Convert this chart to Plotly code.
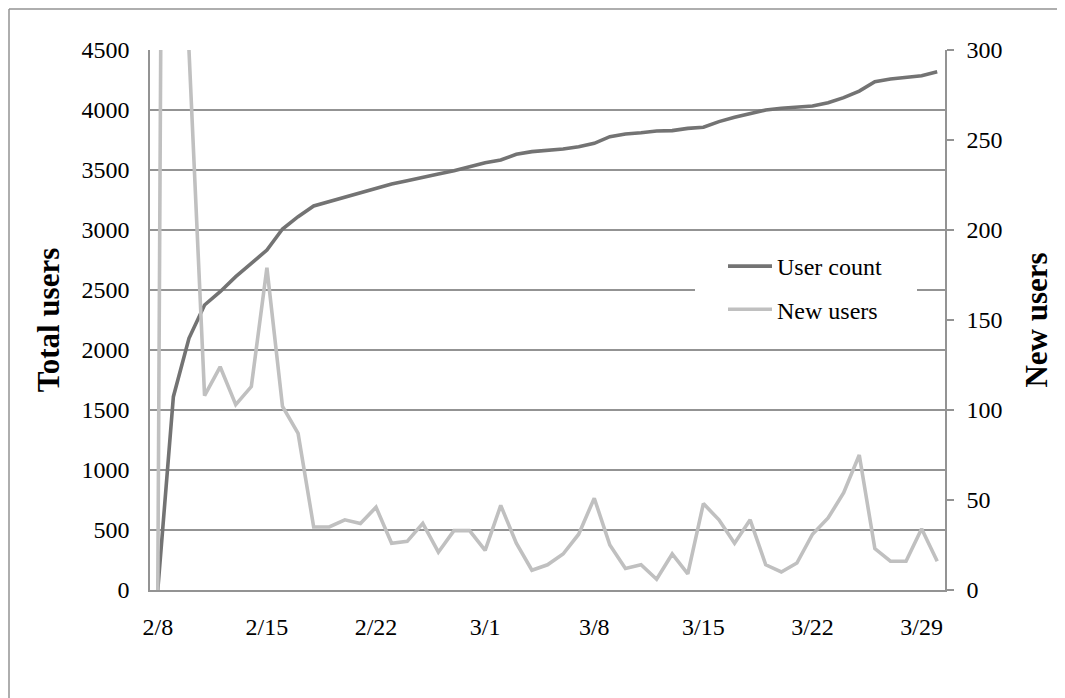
import plotly.graph_objects as go

# ---- data ----
dates = [
    "2011-02-08", "2011-02-09", "2011-02-10", "2011-02-11", "2011-02-12", "2011-02-13", "2011-02-14",
    "2011-02-15", "2011-02-16", "2011-02-17", "2011-02-18", "2011-02-19", "2011-02-20", "2011-02-21",
    "2011-02-22", "2011-02-23", "2011-02-24", "2011-02-25", "2011-02-26", "2011-02-27", "2011-02-28",
    "2011-03-01", "2011-03-02", "2011-03-03", "2011-03-04", "2011-03-05", "2011-03-06", "2011-03-07",
    "2011-03-08", "2011-03-09", "2011-03-10", "2011-03-11", "2011-03-12", "2011-03-13", "2011-03-14",
    "2011-03-15", "2011-03-16", "2011-03-17", "2011-03-18", "2011-03-19", "2011-03-20", "2011-03-21",
    "2011-03-22", "2011-03-23", "2011-03-24", "2011-03-25", "2011-03-26", "2011-03-27", "2011-03-28",
    "2011-03-29", "2011-03-30",
]
user_count = [
    0, 1611, 2097, 2375, 2486, 2611, 2722, 2833, 3008, 3111, 3200, 3236, 3269, 3306, 3342,
    3383, 3411, 3436, 3467, 3494, 3528, 3561, 3583, 3631, 3653, 3661, 3675, 3694, 3722, 3778,
    3800, 3811, 3825, 3828, 3847, 3856, 3903, 3939, 3967, 4000, 4014, 4022, 4033, 4061, 4103,
    4158, 4236, 4258, 4272, 4286, 4319,
]
new_users = [
    0, 1600, 300, 108, 124, 103, 113, 179, 102, 87, 35, 35, 39, 37, 46, 26, 27, 37, 21, 33,
    33, 22, 47, 26, 11, 14, 20, 31, 51, 25, 12, 14, 6, 20, 9, 48, 39, 26, 39, 14, 10, 15,
    31, 40, 54, 75, 23, 16, 16, 34, 16,
]
tick_dates = ["2011-02-08", "2011-02-15", "2011-02-22", "2011-03-01",
              "2011-03-08", "2011-03-15", "2011-03-22", "2011-03-29"]
tick_labels = ["2/8", "2/15", "2/22", "3/1", "3/8", "3/15", "3/22", "3/29"]
x_range = ["2011-02-07 12:00", "2011-03-30 12:00"]

# ---- styling ----
FONT = "Liberation Serif, Times New Roman, serif"
GRID = "#939393"
W, H = 1057, 690               # page adds an 8px body margin; figure runs to the window edge
L, R, T, B = 142, 937, 42, 582  # plot area, figure pixels


def px_x(p):
    return (p - L) / (R - L)


def px_y(p):
    return (B - p) / (B - T)


fig = go.Figure()
fig.add_trace(go.Scatter(
    x=dates, y=user_count, name="User count", mode="lines",
    line=dict(color="#737373", width=3.6), yaxis="y", legendgroup="a",
))
fig.add_trace(go.Scatter(
    x=dates, y=new_users, name="New users", mode="lines",
    line=dict(color="#c0c0c0", width=3.6), yaxis="y2", legendgroup="b",
))

fig.update_layout(
    width=W, height=H,
    margin=dict(l=L, r=W - R, t=T, b=H - B, autoexpand=False),
    paper_bgcolor="white", plot_bgcolor="white",
    font=dict(family=FONT, size=24, color="black"),
    showlegend=True,
    legend=dict(
        x=px_x(715), y=px_y(236), xanchor="left", yanchor="top",
        bgcolor="rgba(0,0,0,0)", borderwidth=0,
        font=dict(family=FONT, size=24, color="black"),
        traceorder="grouped", tracegroupgap=9, itemwidth=44,
    ),
    xaxis=dict(
        type="date", range=x_range,
        tickmode="array", tickvals=tick_dates, ticktext=tick_labels,
        showgrid=False, zeroline=False,
        showline=True, linecolor=GRID, linewidth=1.5,
        ticks="", ticklabelstandoff=14,
        tickfont=dict(family=FONT, size=24, color="black"),
    ),
    yaxis=dict(
        range=[0, 4500], dtick=500, tick0=0,
        showgrid=True, gridcolor=GRID, gridwidth=1.5,
        zeroline=False, showline=True, linecolor=GRID, linewidth=1.5,
        ticks="", ticklabelstandoff=14,
        tickfont=dict(family=FONT, size=24, color="black"),
        title=dict(text="Total users", standoff=13,
                   font=dict(family=FONT, size=31, color="black", weight="bold")),
    ),
    yaxis2=dict(
        range=[0, 300], dtick=50, tick0=0,
        overlaying="y", side="right", anchor="x",
        showgrid=False, zeroline=False,
        showline=True, linecolor=GRID, linewidth=1.5,
        ticks="outside", ticklen=7, tickcolor=GRID, tickwidth=1.5,
        ticklabelstandoff=8,
        tickfont=dict(family=FONT, size=24, color="black"),
        title=dict(text="New users", standoff=24,
                   font=dict(family=FONT, size=31, color="black", weight="bold")),
    ),
    shapes=[
        # outer chart-area border: only its top and left edges are inside the picture
        dict(type="line", xref="paper", yref="paper",
             x0=px_x(1), x1=px_x(1200), y0=px_y(1), y1=px_y(1),
             line=dict(color=GRID, width=1.5)),
        dict(type="line", xref="paper", yref="paper",
             x0=px_x(1), x1=px_x(1), y0=px_y(1), y1=px_y(800),
             line=dict(color=GRID, width=1.5)),
        # legend box background hiding the gridline behind it
        dict(type="rect", xref="paper", yref="paper",
             x0=px_x(687), x1=px_x(909), y0=px_y(327), y1=px_y(237),
             line=dict(width=0), fillcolor="white", layer="above"),
    ],
)

fig.write_html(
    "out.html",
    post_script="document.documentElement.style.overflow='hidden';"
                "document.body.style.overflow='hidden';",
)
